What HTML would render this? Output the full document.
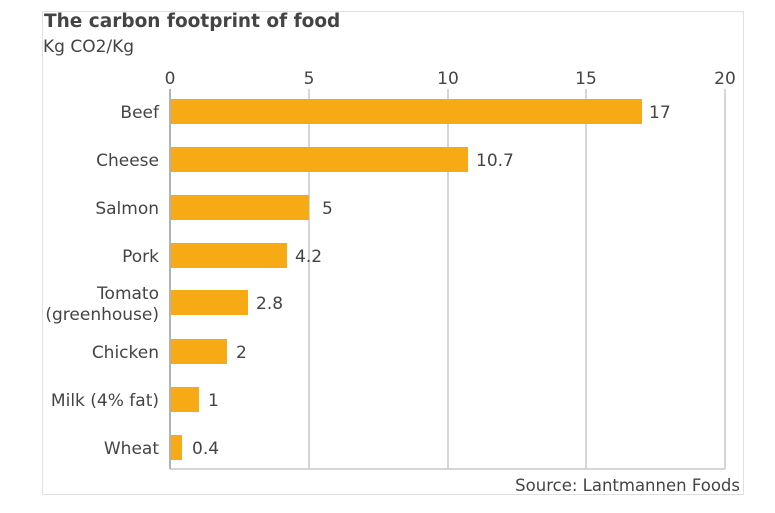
<!DOCTYPE html>
<html><head><style>
body{margin:0;width:775px;height:509px;background:#fff;font-family:"DejaVu Sans","Liberation Sans",sans-serif;color:#333;overflow:hidden}
</style></head><body>
<svg width="775" height="509" xmlns="http://www.w3.org/2000/svg" font-family="DejaVu Sans, Liberation Sans, sans-serif">
<rect x="42.5" y="11.5" width="701" height="483" fill="none" stroke="#e0e0e0"/>
<text x="44" y="27" font-size="18.5" font-weight="bold" fill="#444">The carbon footprint of food</text>
<text x="43" y="52" font-size="17" fill="#444">Kg CO2/Kg</text>
<g font-size="17" fill="#444" text-anchor="middle">
<text x="170" y="84">0</text><text x="309" y="84">5</text><text x="448" y="84">10</text><text x="586" y="84">15</text><text x="725" y="84">20</text>
</g>
<g stroke="#c8c8c8" stroke-width="1.5">
<line x1="309" y1="89" x2="309" y2="469"/><line x1="448" y1="89" x2="448" y2="469"/><line x1="586" y1="89" x2="586" y2="469"/><line x1="725" y1="89" x2="725" y2="469"/>
<line x1="170" y1="469" x2="725" y2="469"/>
</g>
<line x1="170" y1="89" x2="170" y2="469" stroke="#999" stroke-width="1.5"/>
<g fill="#f6aa16">
<rect x="171" y="99" width="471" height="25"/>
<rect x="171" y="147" width="297" height="25"/>
<rect x="171" y="195" width="138" height="25"/>
<rect x="171" y="243" width="116" height="25"/>
<rect x="171" y="290" width="77" height="25"/>
<rect x="171" y="339" width="56" height="25"/>
<rect x="171" y="387" width="28" height="25"/>
<rect x="171" y="435" width="11" height="25"/>
</g>
<g font-size="17" fill="#444">
<text x="649" y="118">17</text><text x="476" y="166">10.7</text><text x="322" y="214">5</text><text x="295" y="262">4.2</text>
<text x="256" y="309">2.8</text><text x="236" y="358">2</text><text x="208" y="406">1</text><text x="192" y="454">0.4</text>
</g>
<g font-size="17" fill="#444" text-anchor="end">
<text x="159" y="118">Beef</text><text x="159" y="166">Cheese</text><text x="159" y="214">Salmon</text><text x="159" y="262">Pork</text>
<text x="159" y="299">Tomato</text><text x="159" y="320">(greenhouse)</text><text x="159" y="358">Chicken</text><text x="159" y="406">Milk (4% fat)</text><text x="159" y="454">Wheat</text>
</g>
<text x="740" y="491" font-size="16.5" fill="#444" text-anchor="end">Source: Lantmannen Foods</text>
</svg>
</body></html>
